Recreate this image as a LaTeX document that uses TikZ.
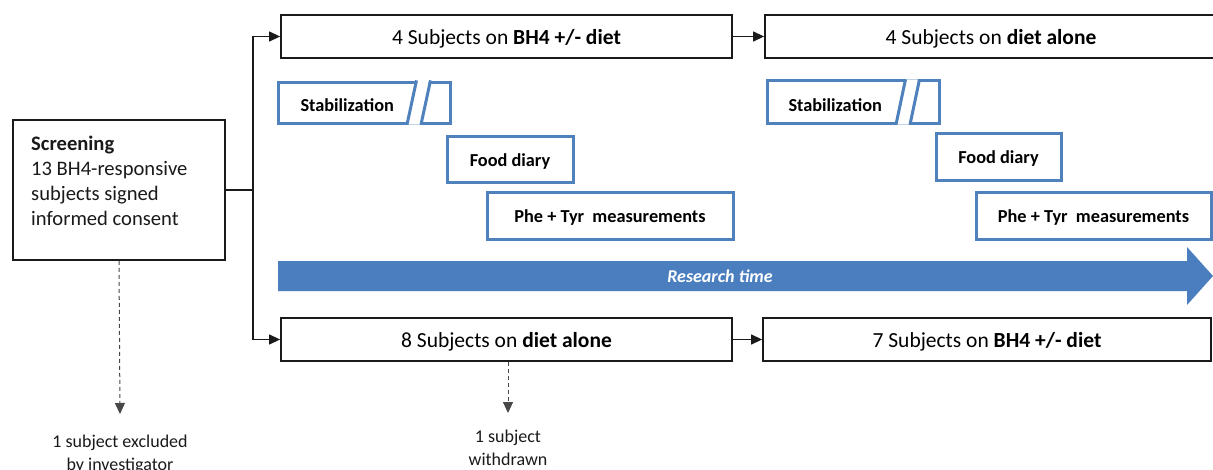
\documentclass[tikz,border=0pt]{standalone}
\usepackage{fontspec}
\setmainfont{Carlito}
\usetikzlibrary{arrows.meta,positioning}
\definecolor{bluebox}{HTML}{4F81BD}
\definecolor{bluearrow}{HTML}{4A7EBF}
\definecolor{ink}{HTML}{1A1A1A}
\begin{document}
\begin{tikzpicture}[x=1pt,y=-1pt,
  blackbox/.style={draw=ink,line width=1.8pt,rectangle,inner sep=0pt,text height=18pt,text depth=3pt,font=\fontsize{21.5}{24}\selectfont},
  bluebx/.style={draw=bluebox,line width=3pt,rectangle,inner sep=0pt,text height=16pt,text depth=2pt,font=\fontsize{18.3}{21}\selectfont\bfseries},
  conn/.style={draw=ink,line width=1.3pt},
  tip/.style={-{Triangle[length=11pt,width=10pt]}},
  dashconn/.style={draw=ink!80,line width=1pt,dashed,dash pattern=on 4pt off 3pt,-{Triangle[length=11pt,width=10pt]}},
  note/.style={align=center,font=\fontsize{18}{23}\selectfont,text=ink}]
\useasboundingbox (0,0) rectangle (1213,469);
\fill[white] (0,0) rectangle (1213,469);

% screening
\node[blackbox,text height=,text depth=,minimum width=212pt,minimum height=140pt] (scr) at (119,190) {};
\node[anchor=north west,align=left,inner sep=0pt,font=\fontsize{20.6}{25}\selectfont,text=ink] (scrtext) at (31,135.5)
  {\textbf{Screening}\\13 BH4-responsive\\subjects signed\\informed consent};

% top row
\node[blackbox,minimum width=451pt,minimum height=43pt] (t1) at (506.5,36.5) {4 Subjects on \textbf{BH4 +/- diet}};
\node[blackbox,minimum width=452pt,minimum height=43pt] (t2) at (991,36.5) {4 Subjects on \textbf{diet alone}};
% bottom row
\node[blackbox,minimum width=451pt,minimum height=43pt] (b1) at (506.5,339.5) {8 Subjects on \textbf{diet alone}};
\node[blackbox,minimum width=448pt,minimum height=43pt] (b2) at (987,339.5) {7 Subjects on \textbf{BH4 +/- diet}};

% connectors
\coordinate (split) at (253,190);
\draw[conn] (scr.east) -- (split);
\draw[conn,tip] (split) |- (t1.west);
\draw[conn,tip] (split) |- (b1.west);
\draw[conn,tip] (t1.east) -- (t2.west);
\draw[conn,tip] (b1.east) -- (b2.west);

% dashed exits
\coordinate (ex1) at (120,414);
\coordinate (ex2) at (508,413);
\draw[dashconn] (scr.south) -- (ex1);
\draw[dashconn] (b1.south -| ex2) -- (ex2);
\node[note,anchor=north] (n1) at (120,431.5) {1 subject excluded\\by investigator};
\node[note,anchor=north] (n2) at (508,426.5) {1 subject\\withdrawn};

% phases, first period
\node[bluebx,minimum width=172pt,minimum height=41pt] (s1) at (364,102.5) {};
\node[bluebx,draw=none,anchor=west] (s1t) at (299,104.5) {Stabilization};
\fill[white] (408,124.6) -- (417,80.4) -- (429,80.4) -- (420,124.6) -- cycle;
\draw[bluebox,line width=3pt] (407,124.6) -- (416.5,80.4) (421,124.6) -- (430.5,80.4);
\node[bluebx,minimum width=126pt,minimum height=46pt] (f1) at (510,159) {Food diary};
\node[bluebx,minimum width=246pt,minimum height=47pt] (p1) at (610,215.5) {Phe + Tyr\ \ measurements};

% phases, second period
\node[bluebx,minimum width=172pt,minimum height=43pt] (s2) at (853,101.5) {};
\node[bluebx,draw=none,anchor=west] (s2t) at (787,104) {Stabilization};
\fill[white] (897,124.6) -- (906,79.4) -- (918,79.4) -- (909,124.6) -- cycle;
\draw[bluebox,line width=3pt] (896,124.6) -- (905.5,79.4) (910,124.6) -- (919.5,79.4);
\node[bluebx,minimum width=125pt,minimum height=47pt] (f2) at (998.5,156.5) {Food diary};
\node[bluebx,minimum width=235pt,minimum height=47pt] (p2) at (1093.5,215.5) {Phe + Tyr\ \ measurements};

% research time arrow
\fill[bluearrow] (278,261) -- (1187,261) -- (1187,247) -- (1213,276) -- (1187,305) -- (1187,291) -- (278,291) -- cycle;
\node[text=white,font=\fontsize{18}{21}\selectfont\bfseries\itshape] (rt) at (720,276) {Research time};
\end{tikzpicture}
\end{document}
